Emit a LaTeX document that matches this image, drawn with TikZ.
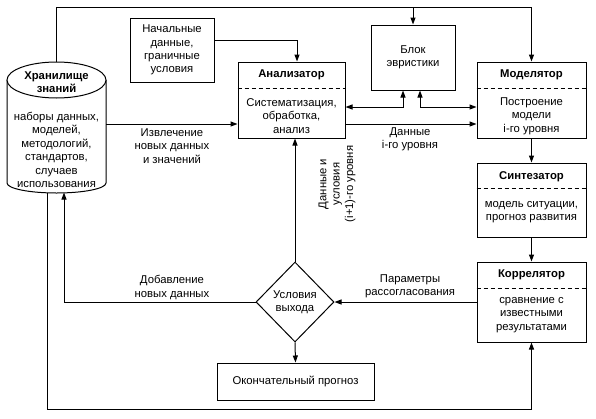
\documentclass[tikz,border=0pt]{standalone}
\usepackage{fontspec}
\setmainfont{Liberation Sans}
\usetikzlibrary{arrows.meta,shapes.geometric}
\begin{document}
\begin{tikzpicture}[x=1pt,y=-1pt,
  font=\fontsize{11.3}{13.4}\selectfont,
  lw/.style={line width=1pt},
  box/.style={draw, lw, rectangle, inner sep=0pt, align=center},
  txt/.style={align=center, inner sep=0pt},
  hd/.style={txt, font=\fontsize{11.3}{13.4}\selectfont\bfseries},
  arr/.style={lw, -{Triangle[length=7pt,width=5pt]}},
  darr/.style={lw, {Triangle[length=7pt,width=5pt]}-{Triangle[length=7pt,width=5pt]}},
  dv/.style={line width=0.8pt, dash pattern=on 4pt off 3pt}]
\useasboundingbox (0,0) rectangle (596,418);

% knowledge store (cylinder)
\node[minimum width=99pt, minimum height=131pt, inner sep=0pt] (store) at (56.5,127.5) {};
\draw[lw] (7,80) -- (7,183) arc[start angle=180, end angle=0, x radius=49.5, y radius=10] -- (106,80);
\draw[lw, fill=white] (56.5,80) ellipse[x radius=49.5, y radius=18];
\node[hd] (storeH) at (56.5,82) {Хранилище\\знаний};
\node[txt] (storeB) at (56.5,150) {наборы данных,\\моделей,\\методологий,\\стандартов,\\случаев\\использования};

% boxes
\node[box, minimum width=84pt, minimum height=64pt] (init) at (172,50) {Начальные\\данные,\\граничные\\условия};
\node[box, minimum width=84pt, minimum height=65pt] (heur) at (413,57.5) {Блок\\эвристики};

\node[box, minimum width=107pt, minimum height=76pt] (an) at (291.5,100) {};
\node[hd] (anH) at (291.5,75) {Анализатор};
\draw[dv] (an.west |- 0,88) -- (an.east |- 0,88);
\node[txt] (anB) at (291.5,116) {Систематизация,\\обработка,\\анализ};

\node[box, minimum width=109pt, minimum height=76pt] (mod) at (531.5,100) {};
\node[hd] (modH) at (531.5,75) {Моделятор};
\draw[dv] (mod.west |- 0,88) -- (mod.east |- 0,88);
\node[txt] (modB) at (531.5,116) {Построение\\модели\\i-го уровня};

\node[box, minimum width=109pt, minimum height=74pt] (syn) at (531.5,200) {};
\node[hd] (synH) at (531.5,177) {Синтезатор};
\draw[dv] (syn.west |- 0,188) -- (syn.east |- 0,188);
\node[txt] (synB) at (531.5,212) {модель ситуации,\\прогноз развития};

\node[box, minimum width=109pt, minimum height=80pt] (cor) at (531.5,302) {};
\node[hd] (corH) at (531.5,275) {Коррелятор};
\draw[dv] (cor.west |- 0,288) -- (cor.east |- 0,288);
\node[txt] (corB) at (531.5,315) {сравнение с\\известными\\результатами};

\node[draw, lw, diamond, minimum width=78pt, minimum height=80pt, inner sep=0pt, align=center] (dia) at (295,302) {Условия\\выхода};

\node[box, minimum width=157pt, minimum height=37pt] (fin) at (295.5,381.5) {Окончательный прогноз};

% labels
\node[txt] (l1) at (172,146) {Извлечение\\новых данных\\и значений};
\node[txt] (l2) at (410,139) {Данные\\i-го уровня};
\node[txt] (l3) at (410,286.5) {Параметры\\рассогласования};
\node[txt] (l4) at (172,287.5) {Добавление\\новых данных};
\node[txt, rotate=90] (l5) at (337,184) {Данные и\\условия\\(i+1)-го уровня};

% connectors
\coordinate (stT) at (56.5,62);
\coordinate (tl) at (56.5,7);
\draw[arr] (stT) -- (tl) -| (mod.north);
\draw[arr] (heur.north |- tl) -- (heur.north);
\draw[arr] (init.east |- 0,40) -| ([xshift=5.5pt]an.north);
\draw[arr] (store.east |- 0,124) -- (an.west |- 0,124);
\draw[darr] (an.east |- 0,107) -| (403,0 |- heur.south);
\draw[darr] (420,0 |- heur.south) |- (mod.west |- 0,107);
\draw[arr] (an.east |- 0,124) -- (mod.west |- 0,124);
\draw[arr] (mod.south) -- (syn.north);
\draw[arr] (syn.south) -- (cor.north);
\draw[arr] (cor.west) -- (dia.east);
\draw[arr] (dia.north) -- (dia.north |- an.south);
\coordinate (sb1) at (64,192.5);
\coordinate (sb2) at (47,192.5);
\draw[arr] (dia.west) -| (sb1);
\draw[arr] (dia.south) -- (fin.north);
\coordinate (bl) at (47,409);
\draw[lw] (sb2) -- (bl);
\draw[arr] (bl) -| (cor.south);
\end{tikzpicture}
\end{document}
